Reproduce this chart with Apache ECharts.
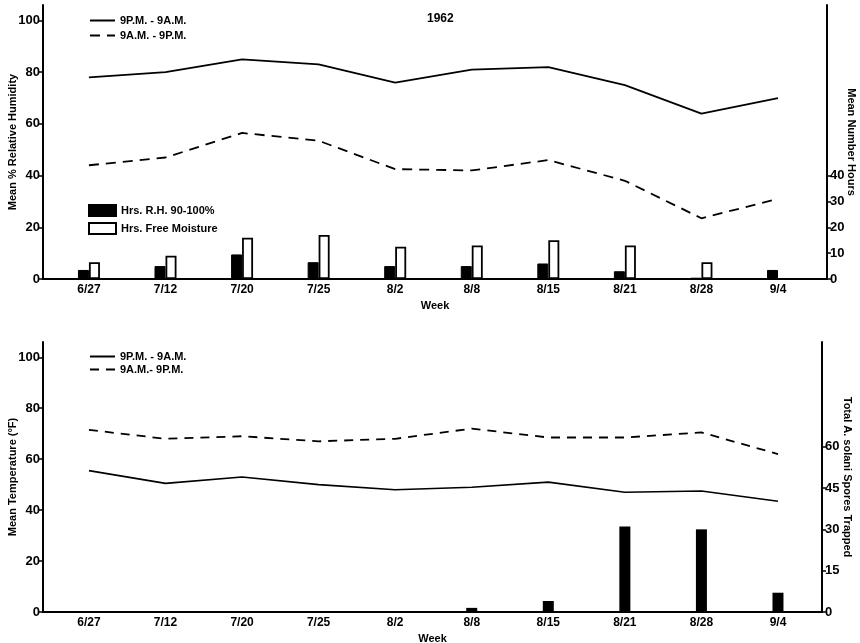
<!DOCTYPE html>
<html><head><meta charset="utf-8">
<script src="https://cdn.jsdelivr.net/npm/echarts@6/dist/echarts.min.js"></script>
<style>html,body{margin:0;padding:0;background:#fff}#c{width:860px;height:643px}</style>
</head><body><div id="c"></div>
<script>
const weeks = ['6/27','7/12','7/20','7/25','8/2','8/8','8/15','8/21','8/28','9/4'];
const rhNight = [78,80,85,83,76,81,82,75,64,70];
const rhDay = [44,47,56.5,53.5,42.5,42,46,38,23.5,31];
const hrsRH = [3.5,5,9.5,6.5,5,5,6,3,0.5,3.5];
const hrsMoist = [6.5,9,16,17,12.5,13,15,13,6.5,0];
const tempNight = [55.5,50.5,53,50,48,49,51,47,47.5,43.5];
const tempDay = [71.5,68,69,67,68,72,68.5,68.5,70.5,62];
const spores = [0,0,0,0,0,1.5,4,31,30,7];
const leftTicks = [0,20,40,60,80,100];
const hoursTicks = [0,10,20,30,40];
const sporeTicks = [0,15,30,45,60];

const idx = weeks.map((w,i)=>i);
const pair = arr => arr.map((v,i)=>[i,v]);
const FONT = 'Liberation Sans';
const lbl = {fontFamily:FONT, fontWeight:'bold', fontSize:12, color:'#000'};
const nameStyle = {fontFamily:FONT, fontWeight:'bold', fontSize:11, color:'#000'};

function xAx(grid, max){
  return {type:'value', gridIndex:grid, min:-0.6, max:max,
    axisLine:{show:true, onZero:false, lineStyle:{color:'#000', width:2}},
    axisTick:{show:false}, splitLine:{show:false},
    axisLabel:Object.assign({customValues:idx, margin:5, formatter:v=>weeks[Math.round(v)]}, lbl),
    name:'Week', nameLocation:'middle', nameGap:21, nameMoveOverlap:false, nameTextStyle:nameStyle};
}
function yAx(grid, pos, max, ticks, name, rot, gap){
  return {type:'value', gridIndex:grid, position:pos, min:0, max:max,
    axisLine:{show:true, onZero:false, lineStyle:{color:'#000', width:2}},
    splitLine:{show:false},
    axisTick:{show:true, customValues:ticks, length:4, lineStyle:{color:'#000', width:1.5}},
    axisLabel:Object.assign({customValues:ticks, margin:3}, lbl, {fontSize:13}),
    name:name, nameLocation:'middle', nameGap:gap, nameRotate:rot, nameMoveOverlap:false,
    nameTextStyle:nameStyle};
}
const lineLegend = {orient:'vertical', itemWidth:25, itemHeight:10, selectedMode:false,
  textStyle:nameStyle, itemStyle:{opacity:0}};

const chart = echarts.init(document.getElementById('c'), null, {renderer:'canvas'});
chart.setOption({
  animation:false,
  backgroundColor:'#fff',
  textStyle:{fontFamily:FONT},
  title:{text:'1962', left:422, top:8, textStyle:{fontFamily:FONT, fontWeight:'bold', fontSize:12, color:'#000'}},
  grid:[
    {left:43, right:33, top:5, height:274, containLabel:false, outerBoundsMode:'none'},
    {left:43, right:38, top:342, height:270, containLabel:false, outerBoundsMode:'none'}
  ],
  xAxis:[xAx(0, 9.64), xAx(1, 9.575)],
  yAxis:[
    yAx(0,'left',106,leftTicks,'Mean % Relative Humidity',90,25),
    yAx(0,'right',106,hoursTicks,'Mean Number Hours',-90,19),
    yAx(1,'left',106,leftTicks,'Mean Temperature (°F)',90,25),
    yAx(1,'right',98,sporeTicks,'Total A. solani Spores Trapped',-90,20)
  ],
  legend:[
    Object.assign({}, lineLegend, {left:84, top:10, itemGap:4, data:['9P.M. - 9A.M.','9A.M. - 9P.M.']}),
    {orient:'vertical', left:83, top:199, itemWidth:27, itemHeight:11, itemGap:5, selectedMode:false,
     icon:'rect', textStyle:nameStyle, data:['Hrs. R.H. 90-100%','Hrs. Free Moisture']},
    Object.assign({}, lineLegend, {left:84, top:346, itemGap:2, data:['9P.M. - 9A.M. ','9A.M.- 9P.M.']})
  ],
  series:[
    {name:'9P.M. - 9A.M.', type:'line', xAxisIndex:0, yAxisIndex:0, symbol:'none', data:pair(rhNight),
     lineStyle:{color:'#000', width:1.8}, itemStyle:{color:'#000'}},
    {name:'9A.M. - 9P.M.', type:'line', xAxisIndex:0, yAxisIndex:0, symbol:'none', data:pair(rhDay),
     lineStyle:{color:'#000', width:1.8, type:[10,7]}, itemStyle:{color:'#000'}},
    {name:'Hrs. R.H. 90-100%', type:'bar', xAxisIndex:0, yAxisIndex:1, data:pair(hrsRH), barWidth:11, barGap:'0%',
     itemStyle:{color:'#000', borderColor:'#000', borderWidth:1}},
    {name:'Hrs. Free Moisture', type:'bar', xAxisIndex:0, yAxisIndex:1, data:pair(hrsMoist), barWidth:11, barGap:'0%',
     itemStyle:{color:'#fff', borderColor:'#000', borderWidth:1.8}},
    {name:'9P.M. - 9A.M. ', type:'line', xAxisIndex:1, yAxisIndex:2, symbol:'none', data:pair(tempNight),
     lineStyle:{color:'#000', width:1.6}, itemStyle:{color:'#000'}},
    {name:'9A.M.- 9P.M.', type:'line', xAxisIndex:1, yAxisIndex:2, symbol:'none', data:pair(tempDay),
     lineStyle:{color:'#000', width:1.8, type:[9,7]}, itemStyle:{color:'#000'}},
    {name:'Spores', type:'bar', xAxisIndex:1, yAxisIndex:3, data:pair(spores), barWidth:11,
     itemStyle:{color:'#000'}}
  ]
});
</script></body></html>
